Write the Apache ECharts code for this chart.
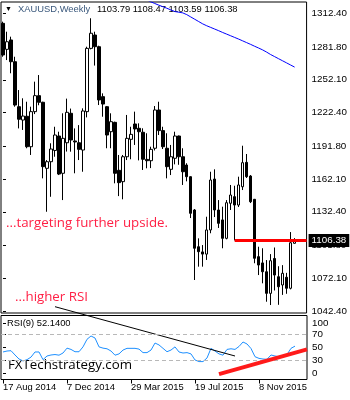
<!DOCTYPE html>
<html><head><meta charset="utf-8">
<script src="https://cdn.jsdelivr.net/npm/echarts@6/dist/echarts.min.js"></script>
<style>html,body{margin:0;padding:0;background:#fff}#c{width:350px;height:400px}</style>
</head><body><div id="c"></div>
<script>
// Weekly XAUUSD bars, index 0 = week of 17 Aug 2014
const opens = [1303.3,1279.7,1288.2,1268.5,1227.7,1215.6,1219.0,1191.4,1223.2,1237.7,
1231.7,1171.8,1177.8,1188.0,1201.1,1167.3,1195.0,1221.7,1196.6,1195.0,
1188.4,1223.2,1280.6,1292.7,1282.1,1236.8,1227.7,1205.0,1213.5,1170.0,
1159.7,1182.3,1198.1,1212.0,1208.1,1204.5,1179.9,1178.7,1190.0,1224.7,
1206.0,1190.0,1170.9,1180.9,1201.1,1182.3,1174.8,1164.2,1134.0,1100.7,
1096.0,1094.0,1115.9,1162.1,1134.0,1125.0,1108.3,1140.1,1146.1,1138.5,
1155.1,1177.2,1164.8,1143.7,1091.7,1086.0,1078.0,1058.4,1090.0,1073.5,
1066.0,1073.0,1063.0,1103.79];
const closes = [1274.6,1286.6,1268.5,1229.2,1216.3,1219.2,1191.4,1223.2,1237.7,1231.7,
1173.3,1177.8,1189.3,1202.0,1166.6,1199.0,1222.6,1197.5,1195.7,1189.0,
1223.8,1280.6,1294.3,1282.1,1233.8,1230.1,1202.0,1214.1,1167.3,1158.8,
1182.3,1199.0,1202.6,1207.5,1205.0,1180.0,1178.7,1189.0,1224.7,1206.0,
1191.4,1173.3,1182.3,1201.1,1182.3,1168.7,1164.2,1131.0,1099.3,1096.2,
1094.0,1115.9,1161.2,1134.0,1121.9,1108.3,1140.6,1147.6,1138.5,1156.7,
1176.9,1164.2,1141.5,1090.2,1084.1,1078.0,1058.4,1088.0,1075.0,1064.4,
1076.6,1063.0,1104.3,1106.38];
const highs = [1304.8,1295.7,1291.2,1273.0,1242.8,1235.3,1232.2,1227.7,1250.4,1256.4,
1232.2,1179.3,1194.5,1209.5,1205.0,1221.7,1235.0,1226.0,1208.0,1211.0,
1226.2,1282.1,1307.9,1295.7,1283.0,1239.8,1228.3,1221.7,1214.1,1183.9,
1183.9,1220.2,1209.5,1223.2,1212.6,1208.1,1203.6,1191.4,1228.3,1232.2,
1209.5,1203.6,1193.0,1205.0,1201.5,1190.0,1176.4,1164.5,1134.9,1108.3,
1102.2,1127.9,1168.7,1170.9,1143.0,1137.0,1143.0,1156.7,1156.0,1164.2,
1192.3,1184.8,1165.7,1144.0,1100.7,1099.3,1088.6,1094.0,1100.0,1083.0,
1084.0,1077.0,1114.0,1108.47];
const lows = [1273.0,1270.0,1258.0,1227.7,1208.0,1206.6,1190.0,1183.9,1221.0,1229.0,
1162.7,1132.4,1146.0,1182.3,1165.7,1143.0,1187.0,1186.9,1167.3,1179.3,
1168.7,1218.0,1279.7,1265.0,1229.2,1218.6,1190.0,1190.0,1158.2,1146.6,
1143.7,1179.3,1180.0,1193.0,1179.0,1170.3,1171.8,1172.0,1188.0,1202.0,
1189.3,1162.7,1165.7,1175.4,1175.0,1156.7,1160.0,1126.7,1070.5,1082.6,
1082.6,1088.7,1112.9,1127.6,1117.7,1099.3,1107.4,1134.0,1106.4,1136.7,
1152.1,1163.0,1140.3,1085.7,1075.0,1067.5,1050.8,1047.8,1061.0,1048.0,
1057.0,1058.0,1062.0,1103.59];
// long moving average (blue), null where above the visible range start
const maStart = 36;
const maValues = [1324.5,1322.8,1321.3,1319.8,1318.4,1317.0,1315.5,1314.0,1313.4,1312.8,
1311.2,1309.1,1307.0,1304.9,1302.8,1301.1,1299.6,1298.1,1296.6,1295.0,
1293.5,1292.0,1290.5,1289.0,1287.4,1285.8,1284.2,1282.5,1280.9,1279.2,
1277.2,1275.0,1273.1,1271.2,1269.3,1267.4,1265.5,1263.6];
// RSI(9)
const rsi = [43,44.5,45,38.3,32,29,31,35,43,43,
31,36.7,38.3,39,38,41.4,49,47,43.4,43.4,
51,62.8,68,64.8,51,49,48,44.5,38,40,
46,48.7,48.7,48.7,47.5,42,42,46,57,54,
48.7,43.4,46,51,43,41.4,42,40,30.5,28,
28,33.6,48.7,44.5,40,38,47,48,47,51.6,
58.6,55.5,48.4,35.6,33,32,31.6,38.3,36.7,35.6,
36.2,39,48.7,52.14];
const rsiLevels = [70, 30];
// annotations (bar index, value)
const supportLine = {fromIdx: 58, toIdx: 76, price: 1106.38};
const rsiDownTrend = [[13, 113.75], [58, 36.7]];
const rsiUpTrend = [[54, 8.4], [76, 47]];
// axis ticks
const priceTicks = [1312.40,1281.80,1252.10,1222.40,1191.80,1162.10,1132.40,1101.80,1072.10,1042.40];
const dateTickIdx = [0,16,32,48,64];
const dateTickText = ['17 Aug 2014','7 Dec 2014','29 Mar 2015','19 Jul 2015','8 Nov 2015'];
const rsiTickPos = [88.5,70,50,30,9];
const rsiTickText = ['100','70','50','30','0'];

const n = closes.length;
const candleData = opens.map((o,i)=>[i,o,closes[i],lows[i],highs[i]]);
const maData = maValues.map((v,k)=>[maStart+k, v]);
const rsiData = rsi.map((v,i)=>[i,v]);
const last = n-1;
const fmt = v => v.toFixed(2);
const lblFont = 'Liberation Sans, Arial, sans-serif';
const annFont = '"Open Sans", sans-serif';

const chart = echarts.init(document.getElementById('c'), null, {renderer:'canvas'});
chart.setOption({
  animation:false,
  backgroundColor:'#ffffff',
  grid:[
    {left:1, top:2, width:306, height:311, show:true, borderColor:'#000', borderWidth:1, backgroundColor:'transparent'},
    {left:1, top:315.5, width:306, height:64, show:true, borderColor:'#000', borderWidth:1, backgroundColor:'transparent'}
  ],
  xAxis:[
    {type:'value', gridIndex:0, min:-0.5, max:76, show:false},
    {type:'value', gridIndex:1, min:-0.5, max:76,
      axisLine:{show:false}, splitLine:{show:false},
      axisTick:{show:true, customValues:dateTickIdx, length:4, lineStyle:{color:'#000'}},
      axisLabel:{customValues:dateTickIdx, align:'left', margin:3, fontSize:9.4, color:'#000', fontFamily:lblFont,
        formatter:(v)=>{const k=dateTickIdx.indexOf(Math.round(v)); return k>=0?dateTickText[k]:'';}}}
  ],
  yAxis:[
    {type:'value', gridIndex:0, position:'right', min:1040.58, max:1322.65,
      axisLine:{show:false}, splitLine:{show:false},
      axisTick:{show:true, customValues:priceTicks, length:3, lineStyle:{color:'#000'}},
      axisLabel:{customValues:priceTicks, formatter:fmt, margin:5, fontSize:9.8, color:'#000', fontFamily:lblFont}},
    {type:'value', gridIndex:1, position:'right', min:0, max:100,
      axisLine:{show:false}, splitLine:{show:false},
      axisTick:{show:true, customValues:rsiTickPos, length:3, lineStyle:{color:'#000'}},
      axisLabel:{customValues:rsiTickPos, margin:5, fontSize:9.8, color:'#000', fontFamily:lblFont,
        formatter:(v)=>{const k=rsiTickPos.indexOf(v); return k>=0?rsiTickText[k]:'';}}}
  ],
  series:[
    {type:'candlestick', xAxisIndex:0, yAxisIndex:0, data:candleData, encode:{x:0, y:[1,2,3,4]},
      barWidth:3,
      itemStyle:{color:'#ffffff', color0:'#000000', borderColor:'#000000', borderColor0:'#000000', borderWidth:1},
      markLine:{silent:true, symbol:['none','none'], animation:false,
        lineStyle:{color:'#ff0000', width:3, type:'solid'},
        label:{show:true, position:'end', distance:2, formatter:()=>fmt(closes[last]),
          color:'#fff', backgroundColor:'#000', padding:[2,3,1,3], fontSize:9.8, fontFamily:lblFont},
        data:[[{coord:[supportLine.fromIdx, supportLine.price]},{coord:[supportLine.toIdx, supportLine.price]}]]}},
    {type:'line', xAxisIndex:0, yAxisIndex:0, data:maData, showSymbol:false, symbol:'none',
      lineStyle:{color:'#0000ff', width:1}, clip:true},
    {type:'line', xAxisIndex:1, yAxisIndex:1, data:rsiData, showSymbol:false, symbol:'none',
      lineStyle:{color:'#1e90ff', width:1},
      markLine:{silent:true, symbol:['none','none'], label:{show:false},
        lineStyle:{color:'#b8b8b8', width:1, type:[4,3]},
        data:rsiLevels.map(v=>({yAxis:v}))}},
    {type:'line', xAxisIndex:1, yAxisIndex:1, data:rsiDownTrend, showSymbol:false, symbol:'none',
      lineStyle:{color:'#000', width:1}, clip:false, z:4},
    {type:'line', xAxisIndex:1, yAxisIndex:1, data:rsiUpTrend, showSymbol:false, symbol:'none',
      lineStyle:{color:'#ff1a1a', width:4}, clip:false, z:5}
  ],
  graphic:[
    {type:'text', left:5, top:6, style:{text:'▼', fill:'#000', font:'7px '+lblFont}},
    {type:'text', left:18, top:5, style:{text:'XAUUSD,Weekly', fill:'#3a587c', font:'9.4px '+lblFont}},
    {type:'text', left:97, top:5, style:{text:[opens[last],highs[last],lows[last],closes[last]].map(fmt).join(' '), fill:'#000', font:'9.4px '+lblFont}},
    {type:'text', left:6, top:217, style:{text:'...targeting further upside.', fill:'#ff2045', font:'13.3px '+annFont}},
    {type:'text', left:15, top:291, style:{text:'...higher RSI', fill:'#ff2045', font:'13.3px '+annFont}},
    {type:'text', left:7, top:319, style:{text:'RSI(9) '+rsi[last].toFixed(4), fill:'#000', font:'9.4px '+lblFont}},
    {type:'text', left:8, top:359, style:{text:'FXTechstrategy.com', fill:'#000', font:'13.3px '+annFont}}
  ]
});
</script></body></html>
